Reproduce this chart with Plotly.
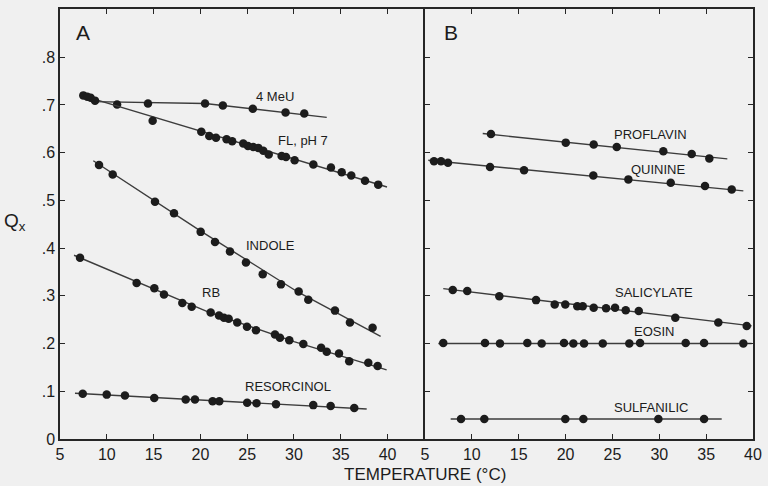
import plotly.graph_objects as go

# ---------------- data ----------------
# Panel A
t_meu = [11.1, 14.4, 20.5, 22.4, 25.6, 29.1, 31.1]
q_meu = [0.701, 0.703, 0.703, 0.699, 0.692, 0.684, 0.682]
line_t_meu = [8.5, 20.5, 33.5]
line_q_meu = [0.707, 0.703, 0.674]

t_fl = [7.49, 7.92, 8.28, 8.74, 14.9, 20.1, 20.95, 21.67, 22.8, 23.4, 24.58, 25.08,
        25.65, 26.19, 26.72, 27.3, 28.68, 29.15, 30.07, 32.07, 33.95, 35.1, 36.12,
        37.59, 39.0]
q_fl = [0.720, 0.717, 0.715, 0.709, 0.667, 0.644, 0.635, 0.631, 0.628, 0.624, 0.619,
        0.614, 0.612, 0.610, 0.604, 0.596, 0.593, 0.591, 0.584, 0.575, 0.569, 0.559,
        0.552, 0.541, 0.533]
line_t_fl = [7.14, 39.94]
line_q_fl = [0.721, 0.528]

t_ind = [9.17, 10.63, 15.15, 17.18, 20.03, 21.56, 23.16, 24.87, 26.66, 28.61, 30.5,
         31.53, 34.38, 35.98, 38.4]
q_ind = [0.574, 0.554, 0.497, 0.473, 0.434, 0.413, 0.393, 0.370, 0.345, 0.324, 0.309,
         0.292, 0.269, 0.244, 0.233]
line_t_ind = [8.56, 20.0, 30.5, 39.26]
line_q_ind = [0.583, 0.436, 0.307, 0.215]

t_rb = [7.14, 13.19, 15.08, 16.11, 18.07, 19.07, 21.1, 21.99, 22.52, 23.02, 23.94,
        24.98, 25.94, 27.97, 28.5, 29.5, 31.0, 32.9, 33.5, 34.81, 35.9, 37.94, 38.94]
q_rb = [0.380, 0.327, 0.316, 0.303, 0.285, 0.277, 0.265, 0.259, 0.254, 0.252, 0.244,
        0.235, 0.228, 0.219, 0.212, 0.207, 0.199, 0.191, 0.183, 0.179, 0.163, 0.160,
        0.153]
line_t_rb = [6.5, 13.2, 21.0, 30.0, 39.9]
line_q_rb = [0.385, 0.329, 0.265, 0.204, 0.145]

t_res = [7.43, 9.99, 11.94, 15.07, 18.43, 19.42, 21.31, 22.02, 25.0, 26.0, 28.08,
         32.06, 33.92, 36.44]
q_res = [0.095, 0.093, 0.091, 0.086, 0.083, 0.083, 0.079, 0.079, 0.076, 0.075, 0.073,
         0.071, 0.069, 0.065]
line_t_res = [6.6, 37.77]
line_q_res = [0.096, 0.063]

# Panel B
t_pro = [12.04, 20.02, 23.0, 25.46, 30.43, 33.46, 35.34]
q_pro = [0.639, 0.621, 0.617, 0.612, 0.603, 0.597, 0.588]
line_t_pro = [11.16, 37.26]
line_q_pro = [0.640, 0.587]

t_qui = [5.96, 6.71, 7.45, 11.94, 15.57, 22.96, 26.7, 31.22, 34.88, 37.73]
q_qui = [0.582, 0.582, 0.579, 0.570, 0.563, 0.552, 0.544, 0.537, 0.530, 0.523]
line_t_qui = [5.35, 38.97]
line_q_qui = [0.584, 0.520]

t_sal = [7.96, 9.51, 12.93, 16.85, 18.84, 19.97, 21.25, 21.83, 23.0, 24.32, 25.28,
         26.42, 27.81, 31.71, 36.3, 39.33]
q_sal = [0.312, 0.310, 0.299, 0.291, 0.282, 0.282, 0.278, 0.278, 0.275, 0.274, 0.275,
         0.270, 0.268, 0.254, 0.244, 0.237]
line_t_sal = [6.95, 39.86]
line_q_sal = [0.315, 0.237]

t_eos = [6.95, 11.40, 13.0, 15.92, 17.45, 19.83, 20.83, 21.97, 23.97, 26.8, 27.95,
         32.82, 34.78, 38.97]
q_eos = [0.201, 0.201, 0.200, 0.201, 0.200, 0.201, 0.200, 0.200, 0.200, 0.200, 0.201,
         0.201, 0.201, 0.200]
line_t_eos = [6.42, 39.86]
line_q_eos = [0.200, 0.200]

t_sul = [8.84, 11.33, 19.97, 21.9, 29.9, 34.78]
q_sul = [0.042, 0.042, 0.042, 0.042, 0.042, 0.042]
line_t_sul = [7.74, 36.66]
line_q_sul = [0.042, 0.042]

x_ticks = [5, 10, 15, 20, 25, 30, 35, 40]
x_tick_labels = ["5", "10", "15", "20", "25", "30", "35", "40"]
y_ticks = [0, 0.1, 0.2, 0.3, 0.4, 0.5, 0.6, 0.7, 0.8]
y_tick_labels = ["0", ".1", ".2", ".3", ".4", ".5", ".6", ".7", ".8"]

# ---------------- styling ----------------
BG = "#f0f0f0"
INK = "#1c1c1c"
LINE = "#3c3c3c"
FONT = "Liberation Sans, Arial, sans-serif"
SPLIT = 0.5267

series = [
    ("x", "y", t_meu, q_meu, line_t_meu, line_q_meu),
    ("x", "y", t_fl, q_fl, line_t_fl, line_q_fl),
    ("x", "y", t_ind, q_ind, line_t_ind, line_q_ind),
    ("x", "y", t_rb, q_rb, line_t_rb, line_q_rb),
    ("x", "y", t_res, q_res, line_t_res, line_q_res),
    ("x2", "y2", t_pro, q_pro, line_t_pro, line_q_pro),
    ("x2", "y2", t_qui, q_qui, line_t_qui, line_q_qui),
    ("x2", "y2", t_sal, q_sal, line_t_sal, line_q_sal),
    ("x2", "y2", t_eos, q_eos, line_t_eos, line_q_eos),
    ("x2", "y2", t_sul, q_sul, line_t_sul, line_q_sul),
]

fig = go.Figure()
for xa, ya, tx, qy, lx, ly in series:
    fig.add_trace(go.Scatter(x=lx, y=ly, xaxis=xa, yaxis=ya, mode="lines",
                             line=dict(color=LINE, width=1.4), hoverinfo="skip",
                             showlegend=False))
    fig.add_trace(go.Scatter(x=tx, y=qy, xaxis=xa, yaxis=ya, mode="markers",
                             marker=dict(color=INK, size=8.5, line=dict(width=0)),
                             showlegend=False))

labels = [
    ("x", "y", 27.97, 0.717, "4 MeU"),
    ("x", "y", 30.96, 0.626, "FL, pH 7"),
    ("x", "y", 27.44, 0.406, "INDOLE"),
    ("x", "y", 21.13, 0.308, "RB"),
    ("x", "y", 29.36, 0.109, "RESORCINOL"),
    ("x2", "y2", 29.07, 0.637, "PROFLAVIN"),
    ("x2", "y2", 29.94, 0.565, "QUININE"),
    ("x2", "y2", 29.44, 0.306, "SALICYLATE"),
    ("x2", "y2", 29.44, 0.226, "EOSIN"),
    ("x2", "y2", 29.07, 0.067, "SULFANILIC"),
]
annotations = []
for xa, ya, lx, ly, txt in labels:
    annotations.append(dict(x=lx, y=ly, xref=xa, yref=ya, text=txt, showarrow=False,
                            font=dict(size=13, color=INK, family=FONT),
                            xanchor="center", yanchor="middle"))
annotations += [
    dict(x=0.0332, y=0.946, xref="paper", yref="paper", text="A", showarrow=False,
         font=dict(size=21, color=INK, family=FONT), xanchor="center", yanchor="middle"),
    dict(x=0.564, y=0.946, xref="paper", yref="paper", text="B", showarrow=False,
         font=dict(size=21, color=INK, family=FONT), xanchor="center", yanchor="middle"),
    dict(x=-0.065, y=0.505, xref="paper", yref="paper", text="Q<sub>x</sub>",
         showarrow=False, font=dict(size=19, color=INK, family=FONT),
         xanchor="center", yanchor="middle"),
    dict(x=0.527, y=-0.082, xref="paper", yref="paper", text="TEMPERATURE (°C)",
         showarrow=False, font=dict(size=17, color=INK, family=FONT),
         xanchor="center", yanchor="middle"),
]

axis_common = dict(showline=True, linecolor="#262626", linewidth=1.5, ticks="inside",
                   ticklen=5, tickwidth=1.3, tickcolor="#262626", showgrid=False,
                   zeroline=False, automargin=False)

fig.update_layout(
    width=768, height=486,
    margin=dict(l=60, r=15, t=9, b=47, autoexpand=False),
    paper_bgcolor=BG, plot_bgcolor=BG,
    font=dict(family=FONT, color=INK),
    annotations=annotations,
    xaxis=dict(domain=[0, SPLIT], range=[5, 44.0], tickvals=x_ticks,
               ticktext=x_tick_labels, mirror="ticks",
               tickfont=dict(size=16, color=INK), anchor="y", **axis_common),
    xaxis2=dict(domain=[SPLIT, 1], range=[5, 40], tickvals=x_ticks,
                ticktext=x_tick_labels, mirror="ticks",
                tickfont=dict(size=16, color=INK), anchor="y2", **axis_common),
    yaxis=dict(range=[0, 0.901], tickvals=y_ticks, ticktext=y_tick_labels,
               mirror=False, tickfont=dict(size=16, color=INK), anchor="x",
               **axis_common),
    yaxis2=dict(range=[0, 0.901], tickvals=y_ticks, showticklabels=False,
                mirror="ticks", anchor="x2", matches="y", **axis_common),
)

fig.write_html(
    "out.html",
    config={"displayModeBar": False},
    post_script="document.body.style.margin='0';document.body.style.background='%s';" % BG,
)
